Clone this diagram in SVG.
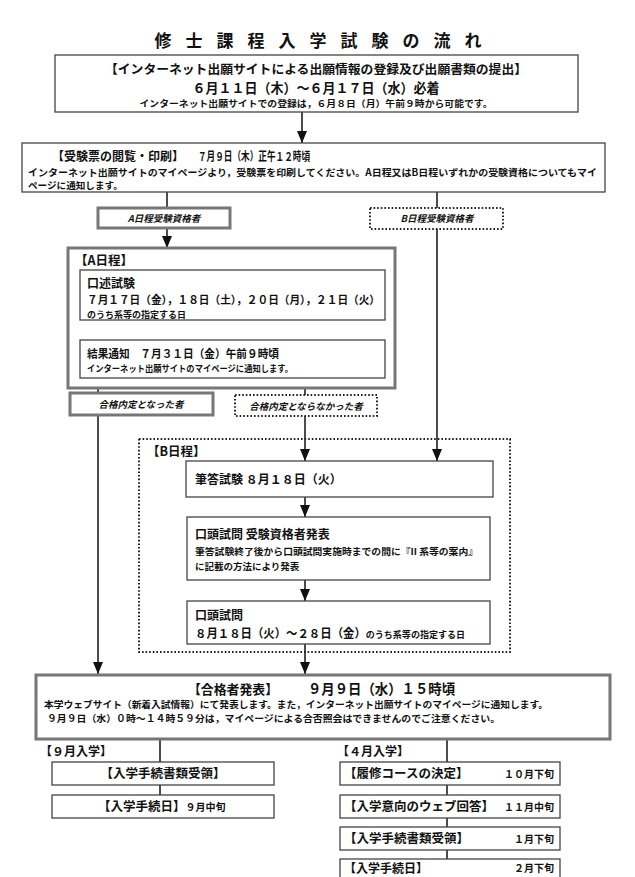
<svg xmlns="http://www.w3.org/2000/svg" width="635" height="877" viewBox="0 0 635 877">
<defs>
<marker id="ah" markerWidth="12" markerHeight="10" refX="12" refY="5" orient="auto" markerUnits="userSpaceOnUse" viewBox="0 0 12 10">
<path d="M0,0 L12,5 L0,10 Z" fill="#111"/>
</marker>
<style>
text{font-family:"Noto Sans CJK JP","Noto Sans CJK SC",sans-serif;font-weight:bold;fill:#111}
.thin{fill:#fff;stroke:#444;stroke-width:1.3}
.thick{fill:#fff;stroke:#777;stroke-width:3}
.dot{fill:#fff;stroke:#222;stroke-width:2;stroke-dasharray:1.6 2}
.dotbig{fill:none;stroke:#222;stroke-width:2;stroke-dasharray:1.6 2}
.ln{stroke:#111;stroke-width:1.5;fill:none}
.ar{stroke:#111;stroke-width:1.5;fill:none;marker-end:url(#ah)}
.it{font-style:italic;font-size:9.5px}
</style>
</defs>
<rect width="635" height="877" fill="#fff"/>
<text x="325" y="47" font-size="17" text-anchor="middle" letter-spacing="14">修士課程入学試験の流れ</text>

<g id="connectors">
<line class="ar" x1="302" y1="112" x2="302" y2="143"/>
<line class="ln" x1="167" y1="192" x2="167" y2="208"/>
<line class="ln" x1="437" y1="192" x2="437" y2="208"/>
<line class="ar" x1="167" y1="228" x2="167" y2="248"/>
<line class="ar" x1="167" y1="320" x2="167" y2="340"/>
<line class="ln" x1="98" y1="378" x2="98" y2="393"/>
<line class="ln" x1="305" y1="378" x2="305" y2="395"/>
<line class="ar" x1="98" y1="415" x2="98" y2="674"/>
<line class="ar" x1="305" y1="416" x2="305" y2="461"/>
<line class="ar" x1="437" y1="229" x2="437" y2="461"/>
<line class="ar" x1="305" y1="497" x2="305" y2="517"/>
<line class="ar" x1="305" y1="580" x2="305" y2="601"/>
<line class="ar" x1="305" y1="644" x2="305" y2="674"/>
<line class="ln" x1="160" y1="739" x2="160" y2="762"/>
<line class="ln" x1="160" y1="785" x2="160" y2="795"/>
<line class="ln" x1="447" y1="739" x2="447" y2="762"/>
<line class="ln" x1="447" y1="785" x2="447" y2="795"/>
<line class="ln" x1="447" y1="818" x2="447" y2="827"/>
<line class="ln" x1="447" y1="850" x2="447" y2="859"/>
</g>

<g id="n-apply">
<rect class="thin" x="55" y="55" width="523" height="57"/>
<text x="316" y="74" font-size="12.5" text-anchor="middle" textLength="422" lengthAdjust="spacingAndGlyphs">【インターネット出願サイトによる出願情報の登録及び出願書類の提出】</text>
<text x="316" y="93" font-size="13.5" text-anchor="middle" textLength="247" lengthAdjust="spacingAndGlyphs">６月１１日（木）～６月１７日（水）必着</text>
<text x="316" y="106.5" font-size="9" text-anchor="middle" textLength="353" lengthAdjust="spacingAndGlyphs">インターネット出願サイトでの登録は，６月８日（月）午前９時から可能です。</text>
</g>

<g id="n-ticket">
<rect class="thin" x="22" y="143" width="583" height="49"/>
<text x="52" y="161" font-size="12">【受験票の閲覧・印刷】</text>
<text x="198" y="161" font-size="12" textLength="112" lengthAdjust="spacingAndGlyphs">７月９日（木）正午１２時頃</text>
<text x="28" y="176" font-size="9.6" textLength="569" lengthAdjust="spacingAndGlyphs">インターネット出願サイトのマイページより，受験票を印刷してください。A日程又はB日程いずれかの受験資格についてもマイ</text>
<text x="28" y="189" font-size="9.6">ページに通知します。</text>
</g>

<g id="n-a-qual">
<rect class="thick" x="98" y="208" width="132" height="20"/>
<text class="it" x="164" y="222" text-anchor="middle">A日程受験資格者</text>
</g>
<g id="n-b-qual">
<rect class="dot" x="370" y="208" width="133" height="21"/>
<text class="it" x="437" y="222" text-anchor="middle">B日程受験資格者</text>
</g>

<g id="n-a-sched">
<rect class="thick" x="68" y="248" width="327" height="140" fill="none"/>
<text x="75" y="265" font-size="12.5">【A日程】</text>
</g>
<g id="n-oral">
<rect class="thin" x="80" y="270" width="305" height="50"/>
<text x="87" y="288" font-size="12">口述試験</text>
<text x="87" y="304" font-size="11" textLength="293" lengthAdjust="spacingAndGlyphs">７月１７日（金），１８日（土），２０日（月），２１日（火）</text>
<text x="87" y="318" font-size="9">のうち系等の指定する日</text>
</g>
<g id="n-result">
<rect class="thin" x="80" y="340" width="305" height="38"/>
<text x="87" y="358" font-size="11.5" textLength="192" lengthAdjust="spacingAndGlyphs">結果通知　７月３１日（金）午前９時頃</text>
<text x="87" y="372" font-size="9" textLength="206" lengthAdjust="spacingAndGlyphs">インターネット出願サイトのマイページに通知します。</text>
</g>

<g id="n-pass">
<rect class="thick" x="70" y="393" width="143" height="22"/>
<text class="it" x="141" y="408" text-anchor="middle">合格内定となった者</text>
</g>
<g id="n-nopass">
<rect class="dot" x="235" y="395" width="142" height="21"/>
<text class="it" x="306" y="410" text-anchor="middle">合格内定とならなかった者</text>
</g>

<g id="n-b-sched">
<rect class="dotbig" x="139" y="439" width="371" height="213"/>
<text x="147" y="456" font-size="12.5">【B日程】</text>
</g>
<g id="n-written">
<rect class="thin" x="186" y="461" width="307" height="36"/>
<text x="195" y="484" font-size="12">筆答試験 ８月１８日（火）</text>
</g>
<g id="n-announce">
<rect class="thin" x="187" y="517" width="303" height="63"/>
<text x="195" y="539" font-size="12">口頭試問 受験資格者発表</text>
<text x="195" y="555" font-size="9.5" textLength="283" lengthAdjust="spacingAndGlyphs">筆答試験終了後から口頭試問実施時までの間に『II 系等の案内』</text>
<text x="195" y="570" font-size="9.5">に記載の方法により発表</text>
</g>
<g id="n-oral-b">
<rect class="thin" x="187" y="601" width="303" height="43"/>
<text x="195" y="620" font-size="12">口頭試問</text>
<text x="195" y="638" font-size="12" textLength="270" lengthAdjust="spacingAndGlyphs">８月１８日（火）～２８日（金）<tspan font-size="9.5">のうち系等の指定する日</tspan></text>
</g>

<g id="n-final">
<rect class="thick" x="36" y="675" width="574" height="64"/>
<text x="188" y="694" font-size="13" textLength="90" lengthAdjust="spacingAndGlyphs">【合格者発表】</text>
<text x="308" y="694" font-size="14" textLength="147" lengthAdjust="spacingAndGlyphs">９月９日（水）１５時頃</text>
<text x="44" y="708" font-size="9.5" textLength="504" lengthAdjust="spacingAndGlyphs">本学ウェブサイト（新着入試情報）にて発表します。また，インターネット出願サイトのマイページに通知します。</text>
<text x="47" y="722" font-size="9.5" textLength="453" lengthAdjust="spacingAndGlyphs">９月９日（水）０時～１４時５９分は，マイページによる合否照会はできませんのでご注意ください。</text>
</g>

<g id="n-sep">
<text x="40" y="756" font-size="12">【９月入学】</text>
</g>
<g id="n-sep-docs">
<rect class="thin" x="52" y="762" width="222" height="23"/>
<text x="163" y="778" font-size="12.5" text-anchor="middle">【入学手続書類受領】</text>
</g>
<g id="n-sep-day">
<rect class="thin" x="52" y="795" width="222" height="23"/>
<text x="98" y="811" font-size="12.5">【入学手続日】<tspan font-size="10">９月中旬</tspan></text>
</g>

<g id="n-apr">
<text x="337" y="756" font-size="12">【４月入学】</text>
</g>
<g id="n-apr-course">
<rect class="thin" x="340" y="762" width="220" height="23"/>
<text x="344" y="778" font-size="12.5">【履修コースの決定】</text>
<text x="554" y="778" font-size="10" text-anchor="end">１０月下旬</text>
</g>
<g id="n-apr-intent">
<rect class="thin" x="340" y="795" width="220" height="23"/>
<text x="344" y="811" font-size="12.5">【入学意向のウェブ回答】</text>
<text x="554" y="811" font-size="10" text-anchor="end">１１月中旬</text>
</g>
<g id="n-apr-docs">
<rect class="thin" x="340" y="827" width="220" height="23"/>
<text x="344" y="843" font-size="12.5">【入学手続書類受領】</text>
<text x="554" y="843" font-size="10" text-anchor="end">１月下旬</text>
</g>
<g id="n-apr-day">
<rect class="thin" x="340" y="859" width="220" height="24"/>
<text x="344" y="873" font-size="12">【入学手続日】</text>
<text x="554" y="872" font-size="10" text-anchor="end">２月下旬</text>
</g>
</svg>
